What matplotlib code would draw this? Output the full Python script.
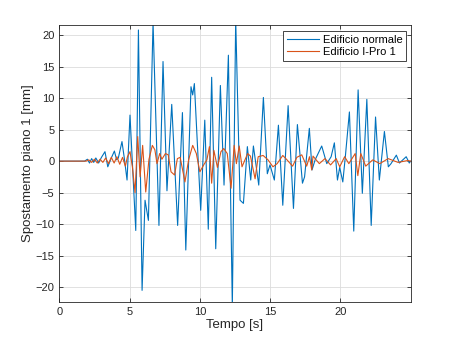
import matplotlib
matplotlib.use("Agg")
import matplotlib.pyplot as plt

plt.rcParams['font.family'] = ['Liberation Sans', 'DejaVu Sans']

t_normale = [0, 1.8, 2.0, 2.15, 2.3, 2.45, 2.6, 2.8, 3.0, 3.25, 3.45, 3.7, 3.92, 4.08, 4.2,
             4.46, 4.63, 4.82, 5.03, 5.44, 5.63, 5.89, 6.1, 6.34, 6.67, 7.09, 7.38, 7.66,
             8.0, 8.42, 8.76, 9.0, 9.37, 9.49, 9.61, 10.06, 10.35, 10.6, 10.84, 11.13,
             11.46, 11.72, 12.03, 12.31, 12.55, 12.86, 13.1, 13.38, 13.62, 13.81, 14.19,
             14.52, 14.8, 14.99, 15.3, 15.59, 15.9, 16.28, 16.66, 16.94, 17.3, 17.45,
             17.79, 17.98, 18.2, 18.67, 19.03, 19.34, 19.57, 19.79, 19.95, 20.17, 20.35,
             20.64, 20.95, 21.26, 21.56, 21.88, 22.19, 22.5, 22.77, 23.13, 23.41, 23.6,
             23.98, 24.2, 24.68, 24.9, 25.0]
y_normale = [0, 0, 0.3, -0.3, 0.4, -0.2, 0.5, -0.3, 0.6, 1.5, -0.9, 0.5, 1.6, 0.2, 0.5,
             3.1, 0.4, -3.0, 7.3, -11.0, 20.8, -20.5, -6.2, -9.4, 22.0, -10.2, 15.8, -4.7,
             9.0, -10.2, 7.7, -14.1, 11.8, 10.5, 12.3, -7.8, 6.5, -10.8, 13.3, -13.9,
             12.0, -3.8, 16.8, -23.0, 22.5, -6.2, -6.7, 2.3, -3.0, 2.4, -3.8,
             10.1, -2.0, -0.6, -3.0, 5.7, -7.0, 8.8, -7.5, 5.8, -3.5, -2.5,
             5.2, -1.4, 0.2, 2.4, -0.4, 0.7, 2.9, -3.0, -1.0, -3.3, 0.7,
             7.8, -11.1, 11.3, -5.1, 9.8, -10.2, 7.0, -3.0, 4.7, -0.9, -0.4,
             0.95, -0.3, 0.7, -0.3, 0.0]

t_ipro = [0, 1.9, 2.1, 2.3, 2.5, 2.7, 2.9, 3.1, 3.3, 3.5, 3.7, 3.9, 4.1, 4.3, 4.5, 4.7,
          4.85, 5.03, 5.2, 5.39, 5.58, 5.75, 5.93, 6.15, 6.38, 6.62, 6.8, 6.95, 7.14,
          7.3, 7.55, 7.75, 7.95, 8.2, 8.4, 8.6, 8.94, 9.2, 9.49, 9.75, 10.0, 10.3, 10.5,
          10.68, 10.84, 11.0, 11.25, 11.5, 11.7, 11.95, 12.22, 12.44, 12.6, 12.8, 13.0,
          13.4, 13.6, 13.93, 14.15, 14.5, 14.85, 15.2, 15.5, 15.9, 16.2, 16.6, 16.9,
          17.25, 17.6, 17.8, 17.96, 18.05, 18.5, 18.9, 19.3, 19.7, 19.95, 20.3, 20.6,
          21.05, 21.24, 21.45, 21.8, 22.3, 22.8, 23.4, 24.1, 24.8, 25.0]
y_ipro = [0, 0, 0.2, -0.2, 0.3, -0.3, 0.3, -0.2, 0.5, -0.4, 0.6, -0.3, 0.7, -0.5, 0.6, -0.8,
          0.7, 1.5, -0.9, -5.0, 3.9, -2.5, 2.5, -4.9, 0.3, 2.5, 1.8, -0.4, 1.2,
          0.3, 1.2, 1.0, -1.7, -2.2, 0.4, 0.6, -3.3, 0.2, 2.5, 1.2, -1.7, -0.5, 0.2,
          2.3, -3.5, 1.7, -1.0, 1.5, 2.0, 1.2, -4.3, 2.5, -0.4, 2.4, -0.9,
          1.2, 0.8, -2.8, 0.7, 0.9, 0.2, -0.9, -0.4, 0.9, 0.2, -0.8, 0.6,
          1.0, -0.8, 0.7, -1.4, 0.8, -0.4, 0.4, -0.6, 0.4, -0.9, 0.7, -0.4,
          1.2, -2.3, 1.2, -0.8, 0.2, -0.4, 0.4, -0.2, 0.1, 0.0]

assert len(t_normale) == len(y_normale)
assert len(t_ipro) == len(y_ipro)

fig = plt.figure(figsize=(4.54, 3.4), dpi=100)
ax = fig.add_axes([0.1306, 0.1126, 0.774, 0.814])

ax.plot(t_normale, y_normale, color='#0072BD', lw=0.8, label='Edificio normale')
ax.plot(t_ipro, y_ipro, color='#D95319', lw=0.8, label='Edificio I-Pro 1')

ax.set_xlim(0, 25)
ax.set_ylim(-22.3, 21.6)
ax.set_xticks([0, 5, 10, 15, 20])
ax.set_yticks(range(-20, 21, 5))
ax.grid(True, color='#dcdcdc', lw=0.6)
ax.set_axisbelow(True)

for s in ax.spines.values():
    s.set_color('#262626')
    s.set_linewidth(0.6)
ax.tick_params(direction='in', length=3, width=0.6, colors='#262626', labelsize=8,
               top=True, right=True)

ax.set_xlabel('Tempo [s]', fontsize=9.5, color='#262626', labelpad=2)
ax.set_ylabel('Spostamento piano 1 [mm]', fontsize=9.5, color='#262626', labelpad=1)

leg = ax.legend(loc='upper right', fontsize=8, frameon=True, fancybox=False,
                edgecolor='#262626', handlelength=2.9, handletextpad=0.3,
                borderpad=0.35, labelspacing=0.2, borderaxespad=0.55, framealpha=1,
                bbox_to_anchor=(1.005, 1.0))
leg.get_frame().set_linewidth(0.6)

fig.savefig('out.png', dpi=100)
